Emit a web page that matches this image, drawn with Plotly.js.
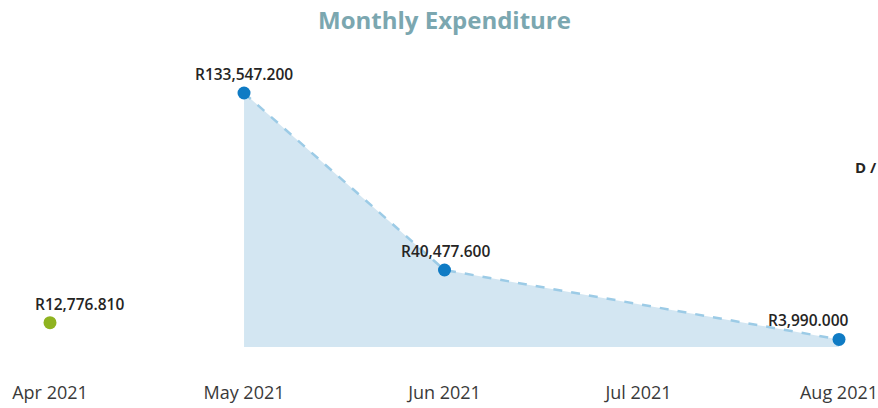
<!DOCTYPE html>
<html>
<head>
<meta charset="utf-8">
<script src="https://cdn.plot.ly/plotly-3.0.1.min.js"></script>
<style>html,body{margin:0;padding:0;background:#fff;}#chart{width:878px;height:408px;}</style>
</head>
<body>
<div id="chart"></div>
<script>
const aprMonths = ['2021-04-01'];
const aprValues = [12776.81];
const mainMonths = ['2021-05-01', '2021-06-01', '2021-08-01'];
const mainValues = [133547.2, 40477.6, 3990.0];
const tickMonths = ['2021-04-01', '2021-05-01', '2021-06-01', '2021-07-01', '2021-08-01'];
const tickLabels = ['Apr 2021', 'May 2021', 'Jun 2021', 'Jul 2021', 'Aug 2021'];

const labelFont = {family: 'Open Sans, sans-serif', size: 15.5, color: '#252423', weight: 600};
const fmt = v => 'R' + v.toLocaleString('en-US', {minimumFractionDigits: 3, maximumFractionDigits: 3});

const traces = [
  {
    x: mainMonths, y: mainValues, type: 'scatter', mode: 'lines+markers',
    fill: 'tozeroy', fillcolor: 'rgba(182,214,234,0.6)',
    line: {color: '#9ccbe6', width: 2.5, dash: 'dash'},
    marker: {color: '#0f7bc4', size: 13},
    cliponaxis: false, hoverinfo: 'skip', showlegend: false
  },
  {
    x: aprMonths, y: aprValues, type: 'scatter', mode: 'markers',
    marker: {color: '#8fb320', size: 13},
    cliponaxis: false, hoverinfo: 'skip', showlegend: false
  }
];

const allX = aprMonths.concat(mainMonths);
const allY = aprValues.concat(mainValues);
const labelShift = [29, 0, 1, -31];
const labelAnns = allX.map((x, i) => ({
  x: x, y: allY[i], xref: 'x', yref: 'y', text: fmt(allY[i]), showarrow: false,
  xshift: labelShift[i], yshift: 19, font: labelFont
}));

const layout = {
  width: 878, height: 408,
  margin: {l: 50, r: 39, t: 93, b: 61},
  paper_bgcolor: '#ffffff', plot_bgcolor: '#ffffff',
  title: {text: '<b>Monthly Expenditure</b>', x: 0.5, xref: 'paper', y: 0.95, yref: 'container', yanchor: 'middle',
          font: {family: 'Open Sans, sans-serif', size: 24, color: '#7ba7b0'}},
  xaxis: {type: 'date', range: ['2021-04-01', '2021-08-01'], tickvals: tickMonths, ticktext: tickLabels,
          showgrid: false, zeroline: false, showline: false, ticks: '', ticklabeloverflow: 'allow',
          ticklabelstandoff: 33, tickfont: {family: 'Open Sans, sans-serif', size: 18, color: '#3a3a3a'}},
  yaxis: {range: [0, 133547.2], visible: false, showgrid: false, zeroline: false},
  annotations: labelAnns.concat([{text: '<b>D /</b>', xref: 'paper', yref: 'paper', x: 1, xanchor: 'left', xshift: 14,
                 y: 0.7087, yanchor: 'middle', showarrow: false,
                 font: {family: 'Open Sans, sans-serif', size: 15, color: '#252423'}}])
};

Plotly.newPlot('chart', traces, layout, {staticPlot: true, displayModeBar: false});
</script>
</body>
</html>
